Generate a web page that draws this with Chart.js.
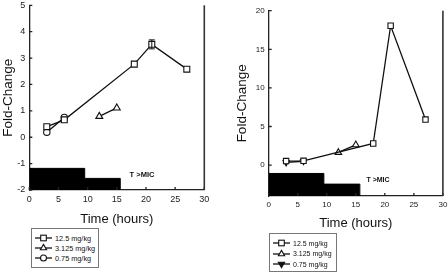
<!DOCTYPE html>
<html>
<head>
  <script src="https://cdn.jsdelivr.net/npm/chart.js"></script>
  <style>
    body {
      margin: 0;
      width: 448px;
      height: 273px;
      position: relative;
      overflow: hidden;
      background: #fff;
      font-family: 'Liberation Sans', Arial, sans-serif;
      color: #111;
    }
    canvas { position: absolute; top: 0; }
    #leftChart { left: 0; }
    #rightChart { left: 224px; }
    .legend {
      position: absolute;
      border: 1px solid #777;
      box-sizing: border-box;
      background: #fff;
    }
    .legend-item {
      position: absolute;
      display: flex;
      align-items: center;
      white-space: nowrap;
      transform: translateY(-50%);
    }
    .legend-item svg { margin-right: 3px; }
    .tmic {
      position: absolute;
      font-weight: bold;
      white-space: nowrap;
      transform: translate(-50%, -50%);
    }
  </style>
</head>
<body>
  <canvas id="leftChart" width="224" height="230"></canvas>
  <canvas id="rightChart" width="224" height="236"></canvas>
  <div class="tmic" style="left:142px; top:174px; font-size:7.5px;">T &gt;MIC</div>
  <div class="tmic" style="left:378px; top:179px; font-size:7px;">T &gt;MIC</div>
  <div class="legend" id="leftLegend" style="left:31px; top:228px; width:68px; height:40px;"></div>
  <div class="legend" id="rightLegend" style="left:269px; top:233px; width:68px; height:39px;"></div>

  <script>
    // Shared axis values
    const xTicks = [0, 5, 10, 15, 20, 25, 30];
    const leftTicksY = [-2, -1, 0, 1, 2, 3, 4, 5];
    const rightTicksY = [0, 5, 10, 15, 20];
    const doseLabels = ['12.5 mg/kg', '3.125 mg/kg', '0.75 mg/kg'];

    // Left panel
    const leftHighX = [3, 6, 18, 21, 27];
    const leftHighY = [0.40, 0.66, 2.77, 3.52, 2.58];
    const leftHighErr = [0, 0, 0, 0.17, 0];
    const leftMidX = [12, 15];
    const leftMidY = [0.79, 1.11];
    const leftLowX = [3, 6];
    const leftLowY = [0.19, 0.75];
    const leftTmicX = [0, 9.5, 15.6, 15.6];
    const leftTmicY = [-1.18, -1.56, -1.56, -2];

    // Right panel
    const rightHighX = [3, 6, 18, 21, 27];
    const rightHighY = [0.52, 0.56, 2.8, 18.05, 5.9];
    const rightMidX = [12, 15];
    const rightMidY = [1.64, 2.63];
    const rightLowX = [3, 6];
    const rightLowY = [0.35, 0.5];
    const rightTmicX = [0, 9.5, 15.7, 15.7];
    const rightTmicY = [-1.08, -2.46, -2.46, -4];

    const FONT = "'Liberation Sans', Arial, sans-serif";
    const INK = '#111';

    const leftStyles = [
      { shape: 'rect', radius: 4.2, fill: '#fff', rotation: 0 },
      { shape: 'triangle', radius: 4, fill: '#fff', rotation: 0 },
      { shape: 'circle', radius: 3.2, fill: '#fff', rotation: 0 }
    ];
    const rightStyles = [
      { shape: 'rect', radius: 3.8, fill: '#fff', rotation: 0 },
      { shape: 'triangle', radius: 3.8, fill: '#fff', rotation: 0 },
      { shape: 'triangle', radius: 3.5, fill: INK, rotation: 180 }
    ];

    function toPoints(xs, ys) {
      return xs.map((x, i) => ({ x: x, y: ys[i] }));
    }

    function seriesDataset(xs, ys, style, errs) {
      return {
        data: toPoints(xs, ys),
        errors: errs || null,
        showLine: true,
        borderColor: INK,
        borderWidth: 1.3,
        pointStyle: style.shape,
        pointRotation: style.rotation,
        pointRadius: style.radius,
        pointBackgroundColor: style.fill,
        pointBorderColor: INK,
        pointBorderWidth: 1.1,
        order: 1
      };
    }

    // black T>MIC blocks: horizontal run first, then drop
    function tmicDataset(xs, ys) {
      return {
        data: toPoints(xs, ys),
        stepped: 'before',
        fill: 'start',
        backgroundColor: '#000',
        borderColor: '#000',
        borderWidth: 1,
        pointRadius: 0,
        order: 5
      };
    }

    // inward tick marks, right frame line
    const framePlugin = {
      id: 'frame',
      afterDraw(chart) {
        const { ctx, chartArea, scales } = chart;
        ctx.save();
        ctx.strokeStyle = '#222';
        ctx.lineWidth = 1.3;
        ctx.beginPath();
        scales.x.ticks.forEach(t => {
          const px = scales.x.getPixelForValue(t.value);
          ctx.moveTo(px, chartArea.bottom);
          ctx.lineTo(px, chartArea.bottom - 3);
        });
        scales.y.ticks.forEach(t => {
          const py = scales.y.getPixelForValue(t.value);
          ctx.moveTo(chartArea.left, py);
          ctx.lineTo(chartArea.left + 3, py);
        });
        ctx.stroke();
        ctx.lineWidth = 1.6;
        ctx.strokeStyle = '#333';
        ctx.beginPath();
        ctx.moveTo(chartArea.right, chartArea.top);
        ctx.lineTo(chartArea.right, chartArea.bottom);
        ctx.stroke();
        ctx.restore();
      }
    };

    const errorBarPlugin = {
      id: 'errorBars',
      afterDatasetsDraw(chart) {
        const { ctx, scales } = chart;
        ctx.save();
        ctx.strokeStyle = INK;
        ctx.lineWidth = 1;
        chart.data.datasets.forEach(ds => {
          if (!ds.errors) return;
          ds.data.forEach((pt, i) => {
            const e = ds.errors[i];
            if (!e) return;
            const px = scales.x.getPixelForValue(pt.x);
            const top = scales.y.getPixelForValue(pt.y + e);
            const bot = scales.y.getPixelForValue(pt.y - e);
            ctx.beginPath();
            ctx.moveTo(px, top); ctx.lineTo(px, bot);
            ctx.moveTo(px - 3, top); ctx.lineTo(px + 3, top);
            ctx.moveTo(px - 3, bot); ctx.lineTo(px + 3, bot);
            ctx.stroke();
          });
        });
        ctx.restore();
      }
    };

    function makeChart(id, p) {
      const tickFont = { family: FONT, size: p.tickSize };
      return new Chart(document.getElementById(id), {
        type: 'line',
        data: { datasets: p.datasets },
        options: {
          responsive: false,
          animation: false,
          layout: { padding: { left: 0, top: p.top, right: p.right, bottom: 0 } },
          plugins: { legend: { display: false }, tooltip: { enabled: false } },
          scales: {
            x: {
              type: 'linear',
              min: 0,
              max: 30,
              grid: { display: false, drawTicks: false },
              border: { color: '#222', width: 1.3 },
              ticks: { padding: p.xPad, color: '#222', font: tickFont, maxRotation: 0 },
              afterBuildTicks: s => { s.ticks = xTicks.map(v => ({ value: v })); },
              title: {
                display: true,
                text: 'Time (hours)',
                color: INK,
                font: { family: FONT, size: 13 },
                padding: { top: 0, bottom: p.xTitlePad }
              },
              afterFit: s => {
                s.height = p.xHeight;
                s.paddingLeft = 0;
                s.paddingRight = 0;
              }
            },
            y: {
              type: 'linear',
              min: p.yMin,
              max: p.yMax,
              grid: { display: false, drawTicks: false },
              border: { color: '#222', width: 1.3 },
              ticks: { padding: 4, color: '#222', font: tickFont },
              afterBuildTicks: s => { s.ticks = p.yTicks.map(v => ({ value: v })); },
              title: {
                display: true,
                text: 'Fold-Change',
                color: INK,
                font: { family: FONT, size: 13.5 },
                padding: { top: p.yTitlePad, bottom: 0 }
              },
              afterFit: s => {
                s.width = p.yWidth;
                s.paddingTop = 0;
                s.paddingBottom = 0;
              }
            }
          }
        },
        plugins: [framePlugin, errorBarPlugin]
      });
    }

    makeChart('leftChart', {
      datasets: [
        seriesDataset(leftHighX, leftHighY, leftStyles[0], leftHighErr),
        seriesDataset(leftMidX, leftMidY, leftStyles[1]),
        seriesDataset(leftLowX, leftLowY, leftStyles[2]),
        tmicDataset(leftTmicX, leftTmicY)
      ],
      yMin: -2, yMax: 5, yTicks: leftTicksY,
      top: 4.3, right: 19.7, yWidth: 29.3, xHeight: 40,
      tickSize: 9, xPad: 4, xTitlePad: 3, yTitlePad: 0
    });

    makeChart('rightChart', {
      datasets: [
        seriesDataset(rightHighX, rightHighY, rightStyles[0]),
        seriesDataset(rightMidX, rightMidY, rightStyles[1]),
        seriesDataset(rightLowX, rightLowY, rightStyles[2]),
        tmicDataset(rightTmicX, rightTmicY)
      ],
      yMin: -4, yMax: 20, yTicks: rightTicksY,
      top: 10.7, right: 4, yWidth: 44.7, xHeight: 40,
      tickSize: 8, xPad: 4, xTitlePad: 5, yTitlePad: 10
    });

    // Legends
    function markerSvg(style) {
      const w = 17, h = 10, cx = 8.5, cy = 5;
      let mark = '';
      if (style.shape === 'rect') {
        mark = `<rect x="${cx - 2.8}" y="${cy - 2.8}" width="5.6" height="5.6" fill="${style.fill}" stroke="${INK}" stroke-width="1.1"/>`;
      } else if (style.shape === 'circle') {
        mark = `<circle cx="${cx}" cy="${cy}" r="3" fill="${style.fill}" stroke="${INK}" stroke-width="1.1"/>`;
      } else {
        const r = 3.6;
        const pts = style.rotation === 180
          ? `${cx - r * 0.87},${cy - r / 2} ${cx + r * 0.87},${cy - r / 2} ${cx},${cy + r}`
          : `${cx - r * 0.87},${cy + r / 2} ${cx + r * 0.87},${cy + r / 2} ${cx},${cy - r}`;
        mark = `<polygon points="${pts}" fill="${style.fill}" stroke="${INK}" stroke-width="1.1"/>`;
      }
      return `<svg width="${w}" height="${h}"><line x1="0" y1="${cy}" x2="${w}" y2="${cy}" stroke="${INK}" stroke-width="1.3"/>${mark}</svg>`;
    }

    function buildLegend(id, styles, rowTops, fontSize) {
      const box = document.getElementById(id);
      doseLabels.forEach((label, i) => {
        const item = document.createElement('div');
        item.className = 'legend-item';
        item.style.left = '3px';
        item.style.top = rowTops[i] + 'px';
        item.style.fontSize = fontSize + 'px';
        item.innerHTML = markerSvg(styles[i]) + '<span>' + label + '</span>';
        box.appendChild(item);
      });
    }

    buildLegend('leftLegend', leftStyles, [9, 19, 29], 7.3);
    buildLegend('rightLegend', rightStyles, [9, 19.5, 30], 7);
  </script>
</body>
</html>
